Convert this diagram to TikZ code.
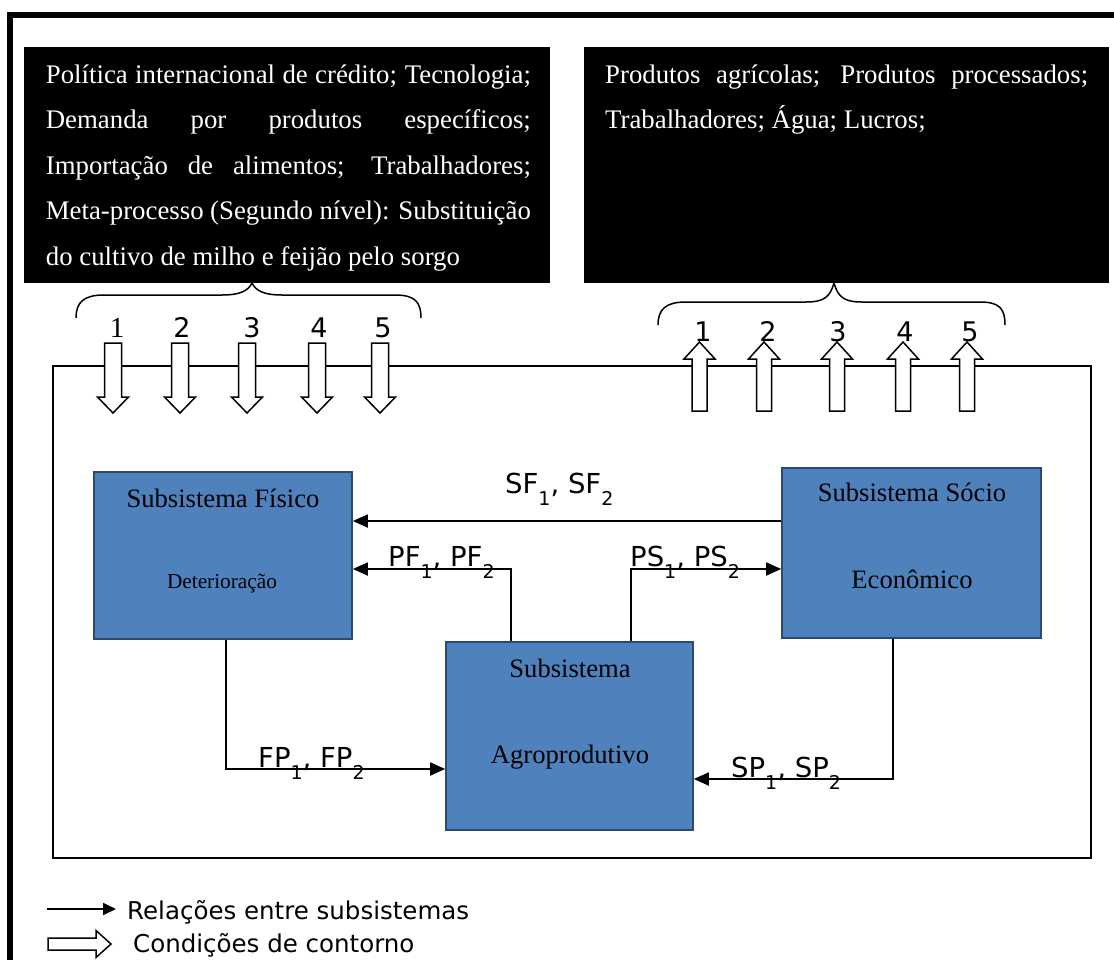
\documentclass[tikz,border=0pt]{standalone}
\usepackage{fontspec}
\setmainfont{Liberation Serif}
\newfontfamily\verd{DejaVu Sans}
\usetikzlibrary{arrows.meta}
\definecolor{boxblue}{HTML}{4F81BD}
\definecolor{boxedge}{HTML}{2C4A70}
\newcommand\lsub[1]{\raisebox{-12pt}{\fontsize{19}{19}\selectfont #1}}
\begin{document}
\begin{tikzpicture}[x=1pt,y=-1pt,
  sub/.style={draw=boxedge, line width=1.6pt, fill=boxblue, inner sep=0pt},
  btext/.style={anchor=base, inner sep=0pt, font=\fontsize{26.6}{30}\selectfont},
  wtext/.style={anchor=base west, inner sep=0pt, text=white, font=\fontsize{26.8}{30}\selectfont},
  rel/.style={line width=1.8pt, -{Triangle[length=15pt,width=13pt]}},
  lab/.style={anchor=base west, inner sep=0pt, font=\verd\fontsize{27.5}{30}\selectfont},
  legtext/.style={anchor=base west, inner sep=0pt, font=\verd\fontsize{24.5}{28}\selectfont},
  num/.style={anchor=base, inner sep=0pt, font=\verd\fontsize{27}{30}\selectfont},
  hollow/.style={draw, line width=1.5pt, fill=white, line join=miter},
  brace/.style={line width=1.5pt},
  pics/downarr/.style={code={\draw[hollow] (-8.5,0) -- (8.5,0) -- (8.5,54) -- (15.5,54) -- (0,70) -- (-15.5,54) -- (-8.5,54) -- cycle;}},
  pics/uparr/.style={code={\draw[hollow] (0,0) -- (15.5,17) -- (7.5,17) -- (7.5,69) -- (-7.5,69) -- (-7.5,17) -- (-15.5,17) -- cycle;}},
  pics/rightarr/.style={code={\draw[hollow] (0,-6) -- (48,-6) -- (48,-13.5) -- (63,0) -- (48,13.5) -- (48,6) -- (0,6) -- cycle;}},
]
\useasboundingbox (0,0) rectangle (1114,959);
\fill[white] (0,0) rectangle (1114,959);
% outer frame
\draw[line width=6pt] (10,965) -- (10,15) -- (1120,15);

% black boxes
\node[fill=black, minimum width=526pt, minimum height=236pt, inner sep=0pt, anchor=north west] (lbox) at (24,47) {};
\node[fill=black, minimum width=525pt, minimum height=236pt, inner sep=0pt, anchor=north west] (rbox) at (584,47) {};
\node[wtext] (l1) at (45.7,83) {\makebox[485pt][s]{Política internacional de crédito; Tecnologia;}};
\node[wtext] (l2) at (45.7,128.5) {\makebox[485pt][s]{Demanda por produtos específicos;}};
\node[wtext] (l3) at (45.7,174) {\makebox[485pt][s]{Importação de alimentos; Trabalhadores;}};
\node[wtext] (l4) at (45.7,219.5) {\makebox[485pt][s]{Meta-processo (Segundo nível): Substituição}};
\node[wtext] (l5) at (45.7,265) {do cultivo de milho e feijão pelo sorgo};
\node[wtext] (r1) at (605,83) {\makebox[483pt][s]{Produtos agrícolas; Produtos processados;}};
\node[wtext] (r2) at (605,128.5) {Trabalhadores; Água; Lucros;};

% braces
\draw[brace] (76,318) .. controls (76,302) and (84,295) .. (104,295) -- (222,295) .. controls (240,295) and (248,291) .. (252,283) .. controls (256,291) and (264,295) .. (282,295) -- (395,295) .. controls (415,295) and (421,302) .. (421,318);
\draw[brace] (658,325) .. controls (658,309) and (666,302) .. (686,302) -- (806,302) .. controls (824,302) and (830,297) .. (834,283) .. controls (838,297) and (844,302) .. (862,302) -- (980,302) .. controls (1000,302) and (1005,309) .. (1005,325);

% environment rectangle
\draw[line width=1.5pt] (53,366) rectangle (1091,858);

% boundary arrows
\foreach \x in {113,180,247,317,380} \pic at (\x,343) {downarr};
\foreach \x in {699.5,764,837,903,967} \pic at (\x,342) {uparr};
\node[anchor=base, inner sep=0pt, font=\fontsize{29}{30}\selectfont] (n1) at (117,337) {1};
\node[num] (n2) at (182,337) {2};
\node[num] (n3) at (252,337) {3};
\node[num] (n4) at (319,337) {4};
\node[num] (n5) at (383,337) {5};
\node[num] (m1) at (703,341) {1};
\node[num] (m2) at (768,341) {2};
\node[num] (m3) at (838,341) {3};
\node[num] (m4) at (905,341) {4};
\node[num] (m5) at (970,341) {5};

% subsystems
\node[sub, minimum width=258pt, minimum height=167pt] (fis) at (223,555.5) {};
\node[sub, minimum width=259pt, minimum height=170pt] (soc) at (911.5,553) {};
\node[sub, minimum width=247pt, minimum height=188pt] (agro) at (569.5,736) {};
\node[btext] (fis1) at (223,507) {Subsistema Físico};
\node[btext, font=\fontsize{21.3}{24}\selectfont] (fis2) at (222,588) {Deterioração};
\node[btext] (soc1) at (912,501) {Subsistema Sócio};
\node[btext] (soc2) at (912,588) {Econômico};
\node[btext] (agro1) at (570,677) {Subsistema};
\node[btext] (agro2) at (570,763) {Agroprodutivo};

% relations
\draw[rel] (soc.west |- 0,521) -- (fis.east |- 0,521);
\draw[rel] (agro.north -| 511,0) |- (fis.east |- 0,569);
\draw[rel] (agro.north -| 631,0) |- (soc.west |- 0,569);
\draw[rel] (fis.south -| 226,0) |- (agro.west |- 0,769);
\draw[rel] (soc.south -| 893,0) |- (agro.east |- 0,779);
\node[lab] (sfl) at (505,493) {SF\lsub{1}, SF\lsub{2}};
\node[lab] (pfl) at (388,566) {PF\lsub{1}, PF\lsub{2}};
\node[lab] (psl) at (630,566) {PS\lsub{1}, PS\lsub{2}};
\node[lab] (fpl) at (258,767) {FP\lsub{1}, FP\lsub{2}};
\node[lab] (spl) at (731,777) {SP\lsub{1}, SP\lsub{2}};

% legend
\coordinate (lega) at (47,909);
\coordinate (legb) at (116,909);
\draw[line width=1.8pt, -{Triangle[length=13pt,width=12pt]}] (lega) -- (legb);
\node[legtext] (leg1) at (127,919) {Relações entre subsistemas};
\pic at (48,944) {rightarr};
\node[legtext] (leg2) at (133,952) {Condições de contorno};
\end{tikzpicture}
\end{document}
